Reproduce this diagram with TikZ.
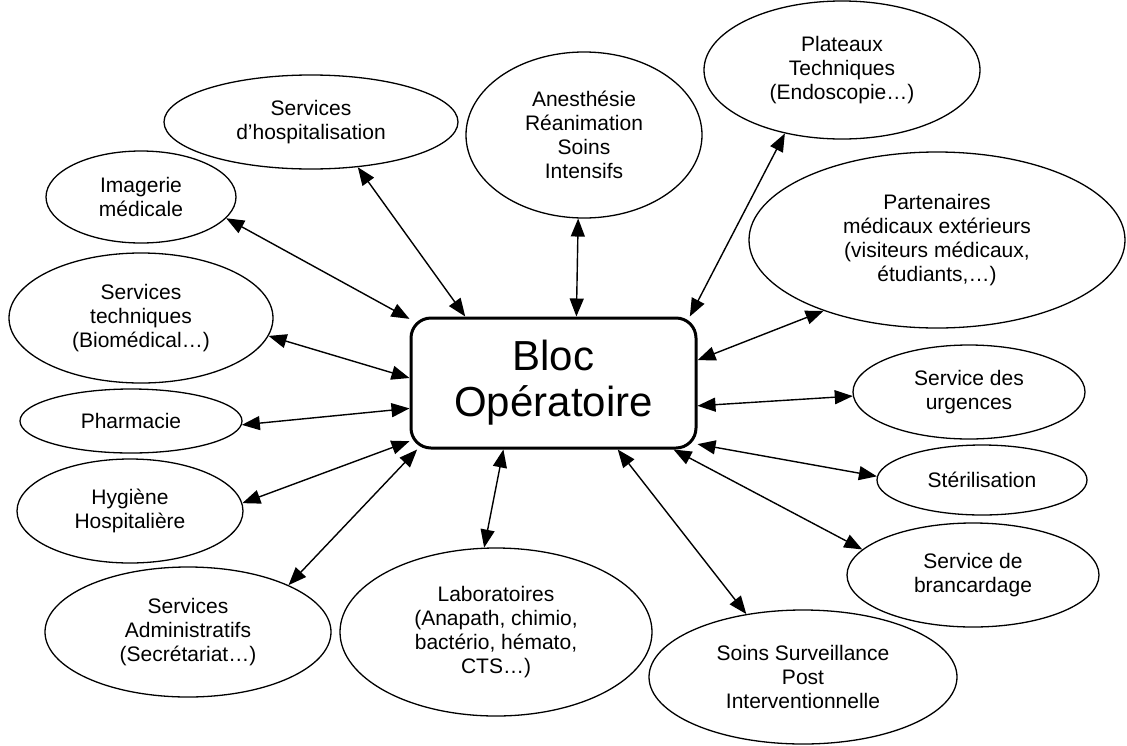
\documentclass[tikz,border=0pt]{standalone}
\usepackage{fontspec}
\setmainfont{Liberation Sans}
\usetikzlibrary{shapes.geometric,arrows.meta}

\begin{document}
\begin{tikzpicture}[x=1pt,y=-1pt,
   service/.style={draw, ellipse, line width=1.3pt, inner sep=0pt, align=center,
      font=\fontsize{21}{24}\selectfont},
   link/.style={{Triangle[length=18pt,width=14pt]}-{Triangle[length=18pt,width=14pt]},
      line width=1.4pt}]
   \useasboundingbox (0,0) rectangle (1127,745);

   \node[draw, rounded corners=20pt, line width=3pt, minimum width=285pt, minimum height=130pt,
      align=center, font=\fontsize{42}{46}\selectfont] (bloc) at (553.5,383) {Bloc\\Opératoire};

   \node[service, minimum width=294pt, minimum height=94pt] (hosp) at (311,122) {Services\\d’hospitalisation};
   \node[service, minimum width=236pt, minimum height=166pt] (anest) at (584,135) {Anesthésie\\Réanimation\\Soins\\Intensifs};
   \node[service, minimum width=276pt, minimum height=138pt] (plat) at (842,70) {Plateaux\\Techniques\\(Endoscopie…)};
   \node[service, minimum width=376pt, minimum height=176pt] (part) at (937,240) {Partenaires\\médicaux extérieurs\\(visiteurs médicaux,\\étudiants,…)};
   \node[service, minimum width=232pt, minimum height=94pt] (urg) at (969,392) {Service des\\urgences};
   \node[service, minimum width=210pt, minimum height=70pt] (steril) at (982,480) {Stérilisation};
   \node[service, minimum width=252pt, minimum height=104pt] (branc) at (973,575) {Service de\\brancardage};
   \node[service, minimum width=308pt, minimum height=134pt] (soins) at (803,677) {Soins Surveillance\\Post\\Interventionnelle};
   \node[service, minimum width=312pt, minimum height=168pt] (labo) at (496,632) {Laboratoires\\(Anapath, chimio,\\bactério, hémato,\\CTS…)};
   \node[service, minimum width=286pt, minimum height=130pt] (admin) at (188,632) {Services\\Administratifs\\(Secrétariat…)};
   \node[service, minimum width=226pt, minimum height=104pt] (hyg) at (130,511) {Hygiène\\Hospitalière};
   \node[service, minimum width=222pt, minimum height=64pt] (pharm) at (131,421) {Pharmacie};
   \node[service, minimum width=264pt, minimum height=130pt] (tech) at (141,318) {Services\\techniques\\(Biomédical…)};
   \node[service, minimum width=190pt, minimum height=92pt] (imag) at (141,197) {Imagerie\\médicale};

   \draw[link] (hosp.-44) -- (bloc.143);
   \draw[link] (anest.-94) -- (bloc.71);
   \draw[link] (plat.-132) -- (bloc.26);
   \draw[link] (part.-148) -- (bloc.9.5);
   \draw[link] (urg.-178.5) -- (bloc.-9);
   \draw[link] (steril.178.4) -- (bloc.-23.6);
   \draw[link] (branc.167) -- (bloc.-29);
   \draw[link] (soins.132) -- (bloc.-46);
   \draw[link] (labo.98) -- (bloc.-127.4);
   \draw[link] (admin.25.4) -- (bloc.-154.4);
   \draw[link] (hyg.4.6) -- (bloc.-158.7);
   \draw[link] (pharm.-2) -- (bloc.-170);
   \draw[link] (tech.-8.4) -- (bloc.178);
   \draw[link] (imag.-14.8) -- (bloc.156);
\end{tikzpicture}
\end{document}
